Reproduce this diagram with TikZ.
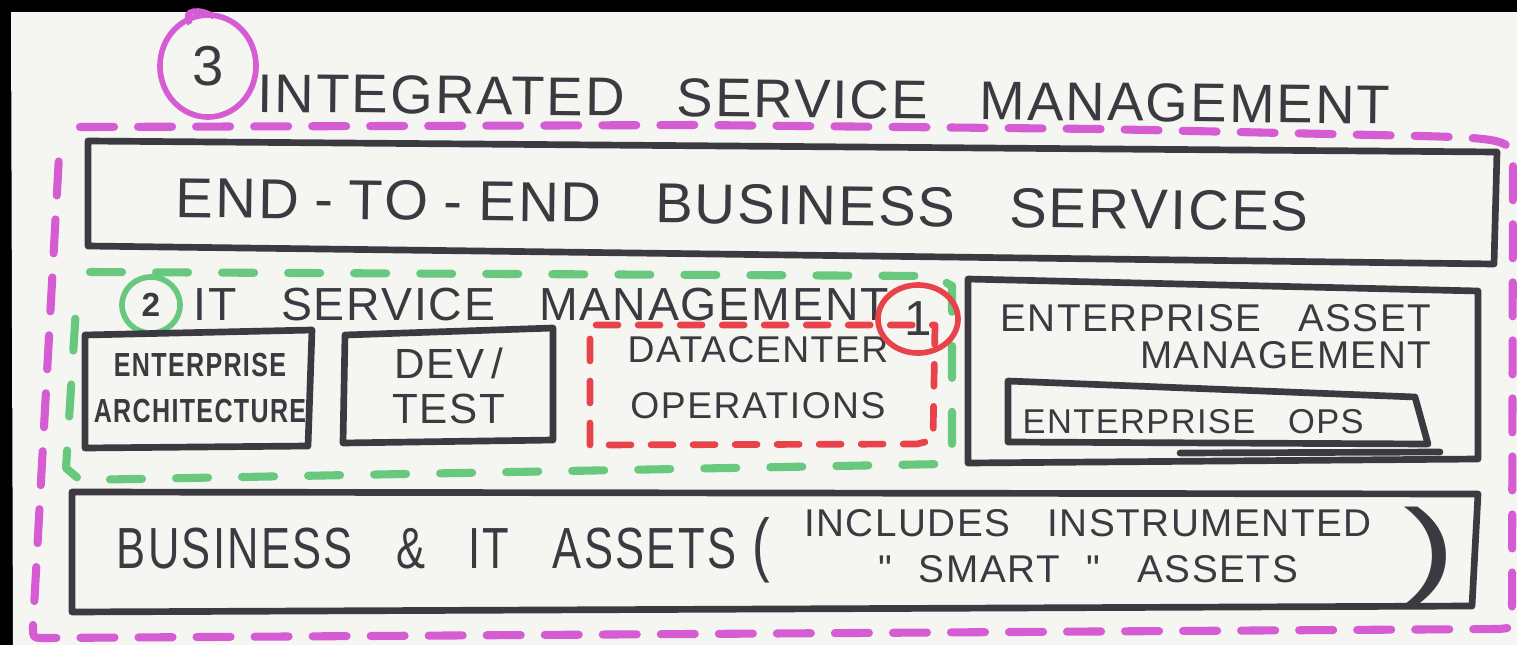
\documentclass[tikz,border=0pt]{standalone}
\usepackage{fontspec}
\usepackage{graphicx}
\newfontfamily\hand[LetterSpace=4,WordSpace=3]{Liberation Sans}
\newfontfamily\handnarrow[FakeStretch=0.75,LetterSpace=4,WordSpace=3]{Liberation Sans}
\usepackage{tikz}
\usetikzlibrary{shapes.geometric}
\definecolor{paper}{RGB}{245,245,242}
\definecolor{inkgray}{RGB}{58,58,64}
\definecolor{magentapen}{RGB}{214,92,212}
\definecolor{greenpen}{RGB}{104,200,126}
\definecolor{redpen}{RGB}{232,66,74}

\begin{document}
\begin{tikzpicture}[x=0.01cm, y=-0.01cm,
  ink/.style={draw=inkgray, line width=1.9pt, line cap=round, line join=round},
  pendash/.style={line width=2.3pt, line cap=round, line join=round},
  magframe/.style={pendash, draw=magentapen, dash pattern=on 0.34cm off 0.24cm},
  greenframe/.style={pendash, draw=greenpen, dash pattern=on 0.32cm off 0.34cm},
  redframe/.style={pendash, draw=redpen, line width=1.9pt, dash pattern=on 0.22cm off 0.2cm},
  ring/.style={ellipse, line width=1.6pt, inner sep=0pt, text=inkgray},
  lab/.style={text=inkgray, inner sep=0pt}
]
\useasboundingbox (0,0) rectangle (1517,645);
\fill[black] (0,0) rectangle (1517,645);
\fill[paper] (11,12) -- (1517,12) -- (1517,645) -- (13,645) -- cycle;

% level 3
\node[ring, draw=magentapen, minimum width=0.96cm, minimum height=1.02cm,
  font=\hand\fontsize{16}{16}\selectfont] (num3) at (208,66) {3};
\draw[ring, draw=magentapen] (190,24) .. controls (180,8) and (202,8) .. (214,17);
\node[lab, font=\hand\fontsize{15.5}{18}\selectfont, anchor=base west, rotate=-0.6] (title) at (257,112)
  {INTEGRATED SERVICE MANAGEMENT};
\draw[magframe] (80,127) -- (700,125) -- (1100,129) -- (1420,136)
  .. controls (1500,138) and (1513,140) .. (1513,160) -- (1512,618)
  .. controls (1512,628) .. (1498,629) -- (45,638)
  .. controls (33,638) .. (33,626) -- (60,138);

% business services
\draw[ink] (88,141) -- (1497,152) -- (1494,264) -- (88,246) -- cycle;
\node[lab, font=\hand\fontsize{16}{18}\selectfont, anchor=base west, rotate=-0.7] (e2e) at (175,217)
  {END\;-\;TO\;-\;END BUSINESS SERVICES};

% level 2
\node[ring, draw=greenpen, minimum width=0.58cm, minimum height=0.56cm,
  font=\hand\bfseries\fontsize{9.5}{9.5}\selectfont] (num2) at (151,305) {2};
\node[lab, font=\hand\fontsize{13.2}{15}\selectfont, anchor=base west] (itsm) at (193,320)
  {IT SERVICE MANAGEMENT};
\draw[greenframe] (90,272) -- (935,276) -- (952,286) -- (952,458) -- (945,464)
  -- (80,480) -- (66,468) -- (77,292);

\draw[ink] (85,335) -- (312,330) -- (308,446) -- (85,448) -- cycle;
\node[lab, font=\handnarrow\bfseries\fontsize{9.5}{12.8}\selectfont, align=center] (ea) at (200,388)
  {ENTERPRISE\\ARCHITECTURE};

\draw[ink] (345,335) -- (553,328) -- (553,440) -- (343,443) -- cycle;
\node[lab, font=\hand\fontsize{12}{12.8}\selectfont, align=center] (devtest) at (449,386)
  {DEV\,/\\TEST};

% level 1
\draw[redframe] (590,445) -- (590,325) -- (935,325) -- (933,440) -- (917,444) -- cycle;
\node[lab, font=\hand\fontsize{10.6}{16}\selectfont, align=center] (dcops) at (758,378)
  {DATACENTER\\OPERATIONS};
\node[ring, draw=redpen, minimum width=0.8cm, minimum height=0.68cm,
  font=\hand\fontsize{14}{14}\selectfont] (num1) at (918,319) {1};

% asset management
\draw[ink] (968,279) -- (1478,291) -- (1478,459) -- (968,463) -- cycle;
\node[lab, font=\hand\fontsize{11}{10.5}\selectfont, align=right, anchor=east] (eam) at (1432,337)
  {ENTERPRISE ASSET\\MANAGEMENT};
\draw[ink] (1008,381) -- (1415,397) -- (1428,444) -- (1008,442) -- cycle;
\draw[ink] (1180,453) -- (1440,452);
\node[lab, font=\hand\fontsize{9.8}{12}\selectfont, anchor=base west] (eops) at (1022,433)
  {ENTERPRISE OPS};

% assets
\draw[ink] (72,492) -- (1478,494) -- (1472,606) -- (72,612) -- cycle;
\node[lab, font=\handnarrow\fontsize{16.5}{18}\selectfont, anchor=base west] (assets) at (116,568)
  {BUSINESS \& IT ASSETS\;{\fontsize{20}{20}\selectfont(}};
\node[lab, font=\hand\fontsize{11}{13}\selectfont, align=center] (smart) at (1088,546)
  {INCLUDES INSTRUMENTED\\"\hspace{0.7em}SMART\hspace{0.7em}" ASSETS};
\node[lab, font=\hand\fontsize{30}{30}\selectfont] (rparen) at (1430,556) {\scalebox{1.5}[1]{)}};
\end{tikzpicture}
\end{document}
